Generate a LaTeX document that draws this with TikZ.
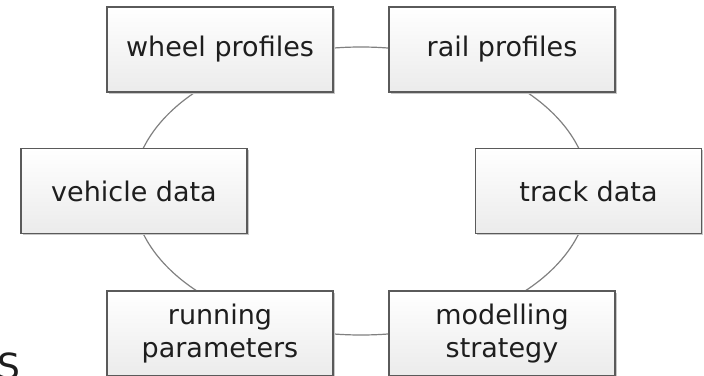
\documentclass[tikz,border=0pt]{standalone}
\usepackage{fontspec}
\setmainfont{DejaVu Sans}
\usetikzlibrary{shadows}
\definecolor{boxline}{HTML}{5A5A5A}
\definecolor{arcline}{HTML}{808080}
\definecolor{boxbottom}{HTML}{EBEBEB}
\definecolor{txt}{HTML}{1E1E1E}
\begin{document}
\begin{tikzpicture}[x=1pt,y=-1pt,
  topic/.style={draw=boxline, line width=1.3pt,
    top color=white, bottom color=boxbottom,
    minimum width=226pt, minimum height=85pt,
    align=center, text=txt, inner sep=0pt,
    font=\fontsize{27}{33}\selectfont,
    drop shadow={shadow xshift=1.6pt, shadow yshift=-1.6pt, fill=black!22, opacity=1}},
  link/.style={draw=arcline, line width=1.2pt}]
  \useasboundingbox (0,0) rectangle (704,375);
  \coordinate (c) at (361,191);
  % ring of links, drawn before the boxes so their ends sit beneath them
  \foreach \a/\b in {100/80, 130/170, 190/230, 260/280, 310/350, 10/50}
    \draw[link] (c) ++(\a:228pt and -144pt)
      arc[start angle=\a, end angle=\b, x radius=228pt, y radius=-144pt];
  \node[topic] (wheel)   at (220,49.5)  {wheel profiles};
  \node[topic] (rail)    at (502,49.5)  {rail profiles};
  \node[topic] (vehicle) at (134,191)   {vehicle data};
  \node[topic] (track)   at (588.5,191) {track data};
  \node[topic] (running) at (220,333.5) {running\\parameters};
  \node[topic] (model)   at (502,333.5) {modelling\\strategy};
  \node[anchor=base west, inner sep=0pt, text=txt,
        font=\fontsize{36}{36}\selectfont] (s) at (-3,379) {S};
\end{tikzpicture}
\end{document}
